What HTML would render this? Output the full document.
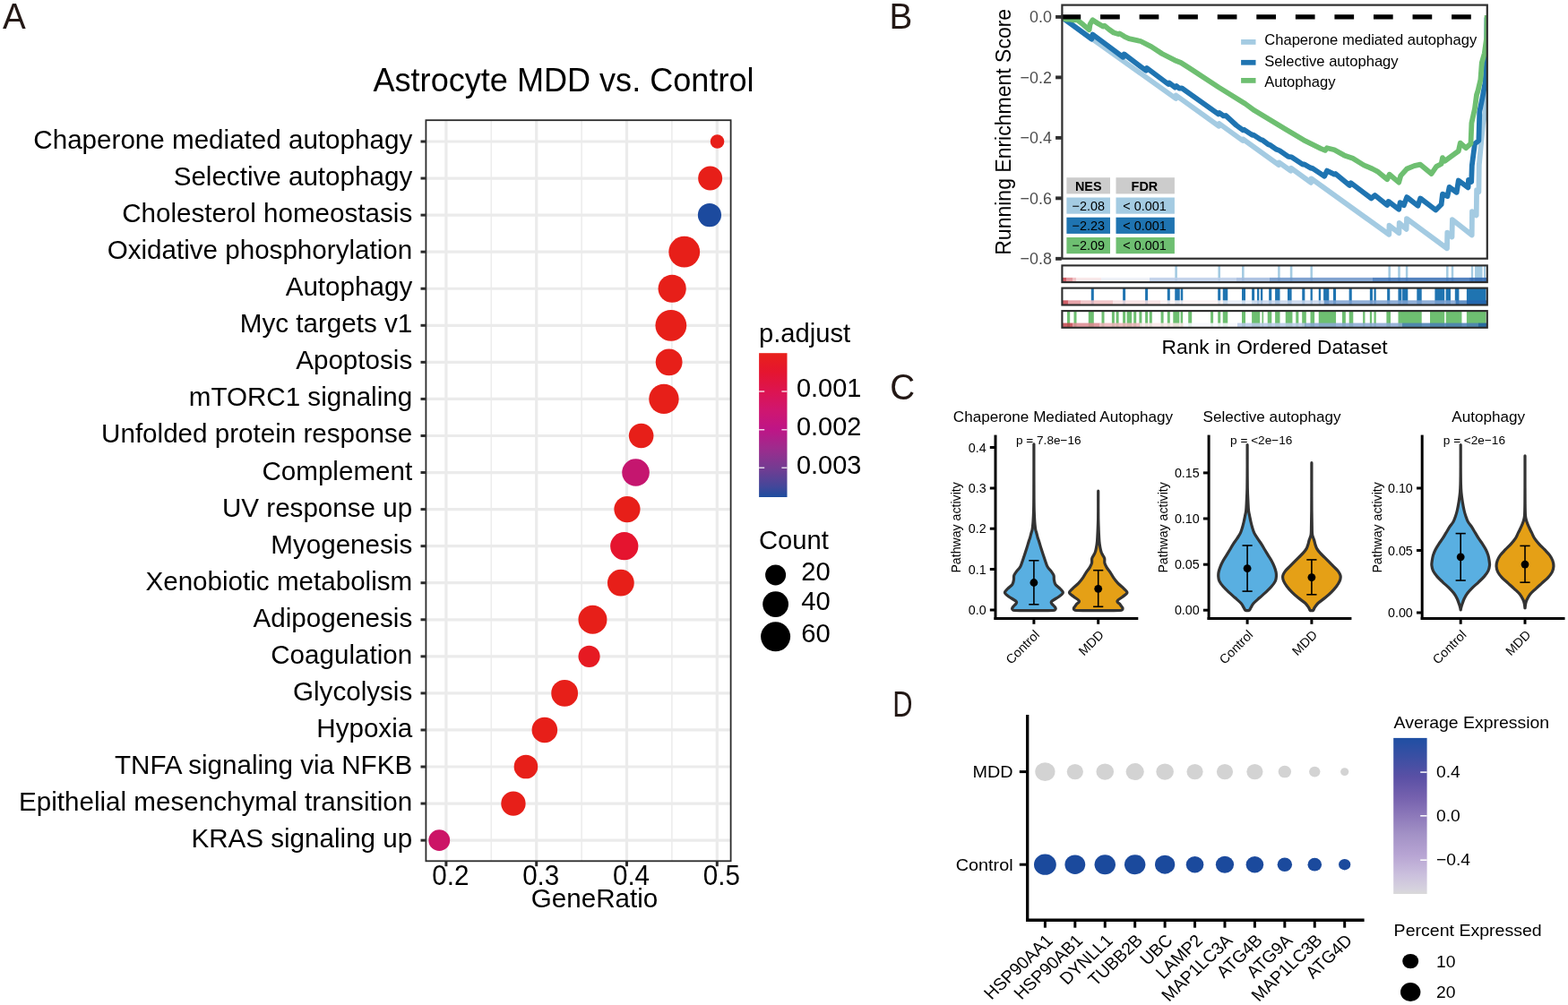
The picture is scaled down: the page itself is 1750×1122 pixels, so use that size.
<!DOCTYPE html>
<html lang="en">
<head>
<meta charset="utf-8">
<title>Astrocyte MDD vs. Control</title>
<style>
html,body{margin:0;padding:0;background:#fff;}
body{width:1750px;height:1122px;overflow:hidden;}
svg{display:block;font-family:"Liberation Sans", Arial, Helvetica, sans-serif;}
</style>
</head>
<body>
<svg width="1750" height="1122" viewBox="0 0 1750 1122">
<defs>
<linearGradient id="gA" x1="0" y1="0" x2="0" y2="1">
<stop offset="0" stop-color="#e8211b"/>
<stop offset="0.13" stop-color="#e5152f"/>
<stop offset="0.27" stop-color="#dc1452"/>
<stop offset="0.4" stop-color="#cf1670"/>
<stop offset="0.53" stop-color="#be1586"/>
<stop offset="0.66" stop-color="#9e2b8d"/>
<stop offset="0.8" stop-color="#733c92"/>
<stop offset="0.92" stop-color="#464699"/>
<stop offset="1" stop-color="#1d4d9f"/>
</linearGradient>


<linearGradient id="gD" x1="0" y1="0" x2="0" y2="1">
<stop offset="0" stop-color="#1f4fa3"/>
<stop offset="0.12" stop-color="#3a4fa3"/>
<stop offset="0.25" stop-color="#5a50a5"/>
<stop offset="0.38" stop-color="#7561ae"/>
<stop offset="0.5" stop-color="#8d79ba"/>
<stop offset="0.62" stop-color="#a392c6"/>
<stop offset="0.75" stop-color="#b7a4d3"/>
<stop offset="0.88" stop-color="#cbc0dd"/>
<stop offset="0.97" stop-color="#d6d2de"/>
<stop offset="1" stop-color="#d9d9d9"/>
</linearGradient>
</defs>
<rect width="1750" height="1122" fill="#fff"/>
<g>
<rect x="475.4" y="134.2" width="340.2" height="827.1" fill="#fff"/>
<line x1="548.3" y1="134.2" x2="548.3" y2="961.3" stroke="#ededed" stroke-width="1.6"/>
<line x1="649.1" y1="134.2" x2="649.1" y2="961.3" stroke="#ededed" stroke-width="1.6"/>
<line x1="749.9" y1="134.2" x2="749.9" y2="961.3" stroke="#ededed" stroke-width="1.6"/>
<line x1="497.9" y1="134.2" x2="497.9" y2="961.3" stroke="#ebebeb" stroke-width="3.2"/>
<line x1="598.7" y1="134.2" x2="598.7" y2="961.3" stroke="#ebebeb" stroke-width="3.2"/>
<line x1="699.5" y1="134.2" x2="699.5" y2="961.3" stroke="#ebebeb" stroke-width="3.2"/>
<line x1="800.3" y1="134.2" x2="800.3" y2="961.3" stroke="#ebebeb" stroke-width="3.2"/>
<line x1="475.4" y1="158" x2="815.6" y2="158" stroke="#ebebeb" stroke-width="3.2"/>
<line x1="475.4" y1="199.06" x2="815.6" y2="199.06" stroke="#ebebeb" stroke-width="3.2"/>
<line x1="475.4" y1="240.12" x2="815.6" y2="240.12" stroke="#ebebeb" stroke-width="3.2"/>
<line x1="475.4" y1="281.18" x2="815.6" y2="281.18" stroke="#ebebeb" stroke-width="3.2"/>
<line x1="475.4" y1="322.24" x2="815.6" y2="322.24" stroke="#ebebeb" stroke-width="3.2"/>
<line x1="475.4" y1="363.3" x2="815.6" y2="363.3" stroke="#ebebeb" stroke-width="3.2"/>
<line x1="475.4" y1="404.36" x2="815.6" y2="404.36" stroke="#ebebeb" stroke-width="3.2"/>
<line x1="475.4" y1="445.42" x2="815.6" y2="445.42" stroke="#ebebeb" stroke-width="3.2"/>
<line x1="475.4" y1="486.48" x2="815.6" y2="486.48" stroke="#ebebeb" stroke-width="3.2"/>
<line x1="475.4" y1="527.54" x2="815.6" y2="527.54" stroke="#ebebeb" stroke-width="3.2"/>
<line x1="475.4" y1="568.6" x2="815.6" y2="568.6" stroke="#ebebeb" stroke-width="3.2"/>
<line x1="475.4" y1="609.66" x2="815.6" y2="609.66" stroke="#ebebeb" stroke-width="3.2"/>
<line x1="475.4" y1="650.72" x2="815.6" y2="650.72" stroke="#ebebeb" stroke-width="3.2"/>
<line x1="475.4" y1="691.78" x2="815.6" y2="691.78" stroke="#ebebeb" stroke-width="3.2"/>
<line x1="475.4" y1="732.84" x2="815.6" y2="732.84" stroke="#ebebeb" stroke-width="3.2"/>
<line x1="475.4" y1="773.9" x2="815.6" y2="773.9" stroke="#ebebeb" stroke-width="3.2"/>
<line x1="475.4" y1="814.96" x2="815.6" y2="814.96" stroke="#ebebeb" stroke-width="3.2"/>
<line x1="475.4" y1="856.02" x2="815.6" y2="856.02" stroke="#ebebeb" stroke-width="3.2"/>
<line x1="475.4" y1="897.08" x2="815.6" y2="897.08" stroke="#ebebeb" stroke-width="3.2"/>
<line x1="475.4" y1="938.14" x2="815.6" y2="938.14" stroke="#ebebeb" stroke-width="3.2"/>
<circle cx="800.55" cy="158" r="7.8" fill="#e71f19"/>
<circle cx="792.65" cy="199.06" r="13.5" fill="#e71f19"/>
<circle cx="791.95" cy="240.12" r="13.1" fill="#1c4a9e"/>
<circle cx="763.75" cy="281.18" r="17.4" fill="#e71f19"/>
<circle cx="750.15" cy="322.24" r="15.6" fill="#e71f19"/>
<circle cx="748.85" cy="363.3" r="17.4" fill="#e71f19"/>
<circle cx="746.65" cy="404.36" r="14.9" fill="#e71f19"/>
<circle cx="740.95" cy="445.42" r="16.7" fill="#e71f19"/>
<circle cx="715.65" cy="486.48" r="13.8" fill="#e71f19"/>
<circle cx="709.55" cy="527.54" r="15.3" fill="#c5166f"/>
<circle cx="699.95" cy="568.6" r="14.6" fill="#e71f19"/>
<circle cx="696.75" cy="609.66" r="15.6" fill="#e5142f"/>
<circle cx="692.85" cy="650.72" r="14.9" fill="#e71f19"/>
<circle cx="661.45" cy="691.78" r="16" fill="#e71f19"/>
<circle cx="657.55" cy="732.84" r="12.1" fill="#e61a22"/>
<circle cx="630.15" cy="773.9" r="14.9" fill="#e71f19"/>
<circle cx="607.85" cy="814.96" r="14.3" fill="#e71f19"/>
<circle cx="586.95" cy="856.02" r="13.3" fill="#e71f19"/>
<circle cx="572.95" cy="897.08" r="13.7" fill="#e71f19"/>
<circle cx="490.25" cy="938.14" r="11.9" fill="#cc1466"/>
<rect x="475.4" y="134.2" width="340.2" height="827.1" fill="none" stroke="#2b2b2b" stroke-width="1.8"/>
<line x1="469.5" y1="158" x2="474.9" y2="158" stroke="#2b2b2b" stroke-width="3"/>
<line x1="469.5" y1="199.06" x2="474.9" y2="199.06" stroke="#2b2b2b" stroke-width="3"/>
<line x1="469.5" y1="240.12" x2="474.9" y2="240.12" stroke="#2b2b2b" stroke-width="3"/>
<line x1="469.5" y1="281.18" x2="474.9" y2="281.18" stroke="#2b2b2b" stroke-width="3"/>
<line x1="469.5" y1="322.24" x2="474.9" y2="322.24" stroke="#2b2b2b" stroke-width="3"/>
<line x1="469.5" y1="363.3" x2="474.9" y2="363.3" stroke="#2b2b2b" stroke-width="3"/>
<line x1="469.5" y1="404.36" x2="474.9" y2="404.36" stroke="#2b2b2b" stroke-width="3"/>
<line x1="469.5" y1="445.42" x2="474.9" y2="445.42" stroke="#2b2b2b" stroke-width="3"/>
<line x1="469.5" y1="486.48" x2="474.9" y2="486.48" stroke="#2b2b2b" stroke-width="3"/>
<line x1="469.5" y1="527.54" x2="474.9" y2="527.54" stroke="#2b2b2b" stroke-width="3"/>
<line x1="469.5" y1="568.6" x2="474.9" y2="568.6" stroke="#2b2b2b" stroke-width="3"/>
<line x1="469.5" y1="609.66" x2="474.9" y2="609.66" stroke="#2b2b2b" stroke-width="3"/>
<line x1="469.5" y1="650.72" x2="474.9" y2="650.72" stroke="#2b2b2b" stroke-width="3"/>
<line x1="469.5" y1="691.78" x2="474.9" y2="691.78" stroke="#2b2b2b" stroke-width="3"/>
<line x1="469.5" y1="732.84" x2="474.9" y2="732.84" stroke="#2b2b2b" stroke-width="3"/>
<line x1="469.5" y1="773.9" x2="474.9" y2="773.9" stroke="#2b2b2b" stroke-width="3"/>
<line x1="469.5" y1="814.96" x2="474.9" y2="814.96" stroke="#2b2b2b" stroke-width="3"/>
<line x1="469.5" y1="856.02" x2="474.9" y2="856.02" stroke="#2b2b2b" stroke-width="3"/>
<line x1="469.5" y1="897.08" x2="474.9" y2="897.08" stroke="#2b2b2b" stroke-width="3"/>
<line x1="469.5" y1="938.14" x2="474.9" y2="938.14" stroke="#2b2b2b" stroke-width="3"/>
<line x1="497.9" y1="961.8" x2="497.9" y2="967.2" stroke="#2b2b2b" stroke-width="3"/>
<line x1="598.7" y1="961.8" x2="598.7" y2="967.2" stroke="#2b2b2b" stroke-width="3"/>
<line x1="699.5" y1="961.8" x2="699.5" y2="967.2" stroke="#2b2b2b" stroke-width="3"/>
<line x1="800.3" y1="961.8" x2="800.3" y2="967.2" stroke="#2b2b2b" stroke-width="3"/>
<text x="460.2" y="166" font-size="29.6" text-anchor="end">Chaperone mediated autophagy</text>
<text x="460.2" y="207.06" font-size="29.6" text-anchor="end">Selective autophagy</text>
<text x="460.2" y="248.12" font-size="29.6" text-anchor="end">Cholesterol homeostasis</text>
<text x="460.2" y="289.18" font-size="29.6" text-anchor="end">Oxidative phosphorylation</text>
<text x="460.2" y="330.24" font-size="29.6" text-anchor="end">Autophagy</text>
<text x="460.2" y="371.3" font-size="29.6" text-anchor="end">Myc targets v1</text>
<text x="460.2" y="412.36" font-size="29.6" text-anchor="end">Apoptosis</text>
<text x="460.2" y="453.42" font-size="29.6" text-anchor="end">mTORC1 signaling</text>
<text x="460.2" y="494.48" font-size="29.6" text-anchor="end">Unfolded protein response</text>
<text x="460.2" y="535.54" font-size="29.6" text-anchor="end">Complement</text>
<text x="460.2" y="576.6" font-size="29.6" text-anchor="end">UV response up</text>
<text x="460.2" y="617.66" font-size="29.6" text-anchor="end">Myogenesis</text>
<text x="460.2" y="658.72" font-size="29.6" text-anchor="end">Xenobiotic metabolism</text>
<text x="460.2" y="699.78" font-size="29.6" text-anchor="end">Adipogenesis</text>
<text x="460.2" y="740.84" font-size="29.6" text-anchor="end">Coagulation</text>
<text x="460.2" y="781.9" font-size="29.6" text-anchor="end">Glycolysis</text>
<text x="460.2" y="822.96" font-size="29.6" text-anchor="end">Hypoxia</text>
<text x="460.2" y="864.02" font-size="29.6" text-anchor="end">TNFA signaling via NFKB</text>
<text x="460.2" y="905.08" font-size="29.6" text-anchor="end">Epithelial mesenchymal transition</text>
<text x="460.2" y="946.14" font-size="29.6" text-anchor="end">KRAS signaling up</text>
<text transform="translate(502.9 988.3) scale(1 1.04)" font-size="29.6" text-anchor="middle">0.2</text>
<text transform="translate(603.7 988.3) scale(1 1.04)" font-size="29.6" text-anchor="middle">0.3</text>
<text transform="translate(704.5 988.3) scale(1 1.04)" font-size="29.6" text-anchor="middle">0.4</text>
<text transform="translate(805.3 988.3) scale(1 1.04)" font-size="29.6" text-anchor="middle">0.5</text>
<text x="663.5" y="1013.2" font-size="29.6" text-anchor="middle">GeneRatio</text>
<text x="629" y="101.9" font-size="36.1" text-anchor="middle">Astrocyte MDD vs. Control</text>
<text x="847" y="382.2" font-size="29.2">p.adjust</text>
<rect x="847.1" y="394.2" width="31.4" height="160.8" fill="url(#gA)"/>
<line x1="847.1" y1="437" x2="853.2" y2="437" stroke="#fff" stroke-width="1.2"/>
<line x1="872.4" y1="437" x2="878.5" y2="437" stroke="#fff" stroke-width="1.2"/>
<text transform="translate(889 443.3) scale(1 1.04)" font-size="28.9">0.001</text>
<line x1="847.1" y1="479.8" x2="853.2" y2="479.8" stroke="#fff" stroke-width="1.2"/>
<line x1="872.4" y1="479.8" x2="878.5" y2="479.8" stroke="#fff" stroke-width="1.2"/>
<text transform="translate(889 486.1) scale(1 1.04)" font-size="28.9">0.002</text>
<line x1="847.1" y1="522.2" x2="853.2" y2="522.2" stroke="#fff" stroke-width="1.2"/>
<line x1="872.4" y1="522.2" x2="878.5" y2="522.2" stroke="#fff" stroke-width="1.2"/>
<text transform="translate(889 528.5) scale(1 1.04)" font-size="28.9">0.003</text>
<text x="847" y="612.8" font-size="29.2">Count</text>
<circle cx="865.6" cy="641.9" r="11.5" fill="#000"/>
<text transform="translate(894.3 648.3) scale(1 1.04)" font-size="29.2">20</text>
<circle cx="865.6" cy="674.6" r="14.4" fill="#000"/>
<text transform="translate(894.3 681) scale(1 1.04)" font-size="29.2">40</text>
<circle cx="865.6" cy="710.8" r="16.5" fill="#000"/>
<text transform="translate(894.3 717.2) scale(1 1.04)" font-size="29.2">60</text>
</g>
<g>
<clipPath id="cpB"><rect x="1185.4" y="5.6" width="474.4" height="283.1"/></clipPath>
<g clip-path="url(#cpB)">
<polyline points="1185.5,19.5 1312.3,110.0 1312.6,106.5 1360.4,140.8 1360.7,138.0 1387.0,157.0 1387.3,155.4 1427.2,184.1 1427.5,181.3 1440.5,190.7 1440.8,187.7 1463.2,203.9 1463.5,199.4 1550.3,261.8 1550.5,251.7 1561.4,260.2 1561.7,249.0 1569.6,255.9 1570.0,244.2 1615.0,277.3 1615.3,259.7 1620.5,264.5 1620.9,245.2 1642.7,262.4 1643.0,236.1 1647.7,240.4 1648.1,212.1 1650.4,214.2 1650.8,184.3 1653.0,160.4 1655.0,139.0 1658.0,123.0 1659.2,93.0 1659.6,19.5" fill="none" stroke="#a4cbe2" stroke-width="5.8" stroke-linejoin="round" stroke-linecap="butt"/>
<polyline points="1185.5,19.5 1218.4,43.6 1219.5,38.5 1253.5,63.8 1254.6,60.4 1279.0,78.8 1280.0,76.0 1304.0,94.0 1305.0,92.6 1311.5,97.6 1313.0,96.0 1316.0,98.6 1319.0,98.3 1359.8,127.4 1361.0,126.0 1365.5,129.4 1368.0,129.0 1380.0,140.0 1387.4,145.4 1388.6,144.8 1397.8,150.9 1399.0,150.6 1406.7,155.7 1408.6,156.2 1415.7,161.4 1417.5,161.8 1424.6,166.8 1428.1,168.1 1437.9,174.8 1441.5,175.3 1454.0,183.7 1455.8,183.4 1463.1,187.8 1464.4,187.6 1472.7,193.1 1478.2,196.7 1481.0,190.6 1489.2,194.7 1490.5,194.0 1506.3,207.0 1507.7,204.3 1530.4,221.4 1534.5,218.0 1548.2,229.0 1549.6,224.9 1561.2,233.8 1562.6,226.2 1566.8,229.2 1570.2,220.1 1582.5,229.7 1585.2,221.4 1602.4,234.5 1608.6,228.3 1610.0,216.6 1615.5,219.0 1617.6,208.9 1625.7,214.8 1627.8,201.5 1638.5,209.4 1639.0,200.9 1642.2,203.0 1642.8,184.8 1646.0,160.4 1650.4,156.9 1651.3,124.8 1654.4,109.5 1657.6,92.0 1659.0,73.0 1659.6,19.5" fill="none" stroke="#1f74b1" stroke-width="5.8" stroke-linejoin="round" stroke-linecap="butt"/>
<polyline points="1185.5,20.0 1190.0,21.6 1194.0,21.4 1198.0,22.4 1202.0,22.0 1209.0,27.6 1215.6,33.2 1216.6,27.0 1219.5,22.3 1225.0,26.0 1231.0,29.6 1232.5,28.6 1238.0,33.0 1243.0,36.5 1248.0,38.0 1249.5,37.4 1255.0,40.8 1260.0,43.2 1273.0,46.0 1285.0,52.1 1297.0,60.0 1311.0,67.2 1318.0,70.0 1329.0,77.0 1360.0,97.4 1390.0,116.0 1400.0,123.3 1434.3,143.9 1454.9,156.3 1474.1,165.9 1478.9,167.9 1481.0,165.2 1489.2,167.2 1500.2,173.4 1509.8,176.8 1522.1,184.4 1531.7,188.5 1537.2,191.3 1548.2,200.2 1550.7,194.7 1561.2,203.6 1563.3,196.1 1570.2,188.5 1578.4,185.1 1585.2,183.7 1597.6,194.0 1603.1,185.8 1608.6,183.0 1610.0,176.2 1612.7,179.6 1622.3,172.7 1627.8,168.6 1629.8,159.7 1636.0,165.2 1641.5,160.4 1642.4,137.3 1646.0,121.2 1648.0,106.0 1649.6,101.0 1652.4,89.0 1653.8,70.0 1656.8,59.5 1659.2,42.0 1659.6,17.0" fill="none" stroke="#6ebf71" stroke-width="5.8" stroke-linejoin="round" stroke-linecap="butt"/>
</g>
<line x1="1184.5" y1="18.9" x2="1659.8" y2="18.9" stroke="#000" stroke-width="5.3" stroke-dasharray="21.7 21.86"/>
<rect x="1185.4" y="5.6" width="474.4" height="283.1" fill="none" stroke="#2e2e2e" stroke-width="2.2"/>
<line x1="1178.1" y1="18.9" x2="1184.8" y2="18.9" stroke="#2e2e2e" stroke-width="3.9"/>
<text transform="translate(1173.9 25.2) scale(1 1.04)" font-size="17.9" text-anchor="end" fill="#4d4d4d">0.0</text>
<line x1="1178.1" y1="86.38" x2="1184.8" y2="86.38" stroke="#2e2e2e" stroke-width="3.9"/>
<text transform="translate(1173.9 92.68) scale(1 1.04)" font-size="17.9" text-anchor="end" fill="#4d4d4d">−0.2</text>
<line x1="1178.1" y1="153.86" x2="1184.8" y2="153.86" stroke="#2e2e2e" stroke-width="3.9"/>
<text transform="translate(1173.9 160.16) scale(1 1.04)" font-size="17.9" text-anchor="end" fill="#4d4d4d">−0.4</text>
<line x1="1178.1" y1="221.34" x2="1184.8" y2="221.34" stroke="#2e2e2e" stroke-width="3.9"/>
<text transform="translate(1173.9 227.64) scale(1 1.04)" font-size="17.9" text-anchor="end" fill="#4d4d4d">−0.6</text>
<line x1="1178.1" y1="288.82" x2="1184.8" y2="288.82" stroke="#2e2e2e" stroke-width="3.9"/>
<text transform="translate(1173.9 295.12) scale(1 1.04)" font-size="17.9" text-anchor="end" fill="#4d4d4d">−0.8</text>
<text transform="translate(1128.4 147.3) rotate(-90)" font-size="23" text-anchor="middle">Running Enrichment Score</text>
<text x="1422.6" y="395" font-size="22.8" text-anchor="middle">Rank in Ordered Dataset</text>
<line x1="1385.1" y1="46.9" x2="1401.5" y2="46.9" stroke="#a4cbe2" stroke-width="5.8"/>
<text x="1411.2" y="50.3" font-size="16.6">Chaperone mediated autophagy</text>
<line x1="1385.1" y1="69.8" x2="1401.5" y2="69.8" stroke="#1f74b1" stroke-width="5.8"/>
<text x="1411.2" y="74.4" font-size="16.6">Selective autophagy</text>
<line x1="1385.1" y1="89.9" x2="1401.5" y2="89.9" stroke="#6ebf71" stroke-width="5.8"/>
<text x="1411.2" y="96.5" font-size="16.6">Autophagy</text>
<rect x="1190.4" y="198.2" width="48.6" height="18.2" fill="#cccccc"/>
<text transform="translate(1214.7 212.6) scale(1 1.04)" font-size="14.4" text-anchor="middle" font-weight="bold">NES</text>
<rect x="1245.5" y="198.2" width="65.4" height="18.2" fill="#cccccc"/>
<text transform="translate(1277.4 212.6) scale(1 1.04)" font-size="14.4" text-anchor="middle" font-weight="bold">FDR</text>
<rect x="1190.4" y="220.5" width="48.6" height="18.2" fill="#a4cbe2"/>
<text transform="translate(1214.7 234.9) scale(1 1.04)" font-size="14.4" text-anchor="middle">−2.08</text>
<rect x="1245.5" y="220.5" width="65.4" height="18.2" fill="#a4cbe2"/>
<text transform="translate(1277.5 234.9) scale(1 1.04)" font-size="14.4" text-anchor="middle">&lt; 0.001</text>
<rect x="1190.4" y="242.7" width="48.6" height="18.2" fill="#1f74b1"/>
<text transform="translate(1214.7 257.1) scale(1 1.04)" font-size="14.4" text-anchor="middle">−2.23</text>
<rect x="1245.5" y="242.7" width="65.4" height="18.2" fill="#1f74b1"/>
<text transform="translate(1277.5 257.1) scale(1 1.04)" font-size="14.4" text-anchor="middle">&lt; 0.001</text>
<rect x="1190.4" y="265" width="48.6" height="18.2" fill="#6ebf71"/>
<text transform="translate(1214.7 279.4) scale(1 1.04)" font-size="14.4" text-anchor="middle">−2.09</text>
<rect x="1245.5" y="265" width="65.4" height="18.2" fill="#6ebf71"/>
<text transform="translate(1277.5 279.4) scale(1 1.04)" font-size="14.4" text-anchor="middle">&lt; 0.001</text>
<rect x="1185.4" y="296.4" width="474.4" height="18.7" fill="#fff"/>
<rect x="1311.3" y="296.4" width="2.6" height="18.7" fill="#a4cbe2"/>
<rect x="1359.4" y="296.4" width="2.6" height="18.7" fill="#a4cbe2"/>
<rect x="1386" y="296.4" width="2.6" height="18.7" fill="#a4cbe2"/>
<rect x="1426.15" y="296.4" width="2.5" height="18.7" fill="#a4cbe2"/>
<rect x="1439.8" y="296.4" width="2.6" height="18.7" fill="#a4cbe2"/>
<rect x="1462.45" y="296.4" width="2.5" height="18.7" fill="#a4cbe2"/>
<rect x="1549.4" y="296.4" width="2.6" height="18.7" fill="#a4cbe2"/>
<rect x="1560.2" y="296.4" width="2.6" height="18.7" fill="#a4cbe2"/>
<rect x="1568.85" y="296.4" width="2.5" height="18.7" fill="#a4cbe2"/>
<rect x="1614.05" y="296.4" width="2.5" height="18.7" fill="#a4cbe2"/>
<rect x="1619.75" y="296.4" width="2.5" height="18.7" fill="#a4cbe2"/>
<rect x="1641.85" y="296.4" width="2.3" height="18.7" fill="#a4cbe2"/>
<rect x="1646.05" y="296.4" width="8.5" height="18.7" fill="#a4cbe2"/>
<rect x="1656" y="296.4" width="2" height="18.7" fill="#a4cbe2"/>
<g opacity="0.86">
<rect x="1185" y="309.9" width="5.3" height="5.2" fill="#c9444f"/>
<rect x="1190" y="309.9" width="7.3" height="5.2" fill="#e08a91"/>
<rect x="1197" y="309.9" width="4.3" height="5.2" fill="#efbcc0"/>
<rect x="1201" y="309.9" width="28.3" height="5.2" fill="#fae6e7"/>
<rect x="1229" y="309.9" width="54.3" height="5.2" fill="#edf1f9"/>
<rect x="1283" y="309.9" width="97.3" height="5.2" fill="#bdcfea"/>
<rect x="1380" y="309.9" width="37.3" height="5.2" fill="#a3bbdf"/>
<rect x="1417" y="309.9" width="115.3" height="5.2" fill="#6e96ca"/>
<rect x="1532" y="309.9" width="108.3" height="5.2" fill="#3a70b6"/>
<rect x="1640" y="309.9" width="20.1" height="5.2" fill="#2a62ac"/>
</g>
<rect x="1185.4" y="296.4" width="474.4" height="18.7" fill="none" stroke="#2b2b2b" stroke-width="2.1"/>
<rect x="1185.4" y="321.6" width="474.4" height="18.9" fill="#fff"/>
<rect x="1217.8" y="321.6" width="3" height="18.9" fill="#1f74b1"/>
<rect x="1253.1" y="321.6" width="3" height="18.9" fill="#1f74b1"/>
<rect x="1278.1" y="321.6" width="3" height="18.9" fill="#1f74b1"/>
<rect x="1302.8" y="321.6" width="3" height="18.9" fill="#1f74b1"/>
<rect x="1311.25" y="321.6" width="5.5" height="18.9" fill="#1f74b1"/>
<rect x="1317.75" y="321.6" width="2.5" height="18.9" fill="#1f74b1"/>
<rect x="1359.2" y="321.6" width="3" height="18.9" fill="#1f74b1"/>
<rect x="1364.75" y="321.6" width="5.5" height="18.9" fill="#1f74b1"/>
<rect x="1386" y="321.6" width="4" height="18.9" fill="#1f74b1"/>
<rect x="1397.1" y="321.6" width="3" height="18.9" fill="#1f74b1"/>
<rect x="1403.05" y="321.6" width="2.3" height="18.9" fill="#1f74b1"/>
<rect x="1406.95" y="321.6" width="2.3" height="18.9" fill="#1f74b1"/>
<rect x="1416.15" y="321.6" width="3.1" height="18.9" fill="#1f74b1"/>
<rect x="1423.1" y="321.6" width="5.4" height="18.9" fill="#1f74b1"/>
<rect x="1437" y="321.6" width="4.6" height="18.9" fill="#1f74b1"/>
<rect x="1453.25" y="321.6" width="3.1" height="18.9" fill="#1f74b1"/>
<rect x="1462.55" y="321.6" width="2.3" height="18.9" fill="#1f74b1"/>
<rect x="1471.75" y="321.6" width="2.3" height="18.9" fill="#1f74b1"/>
<rect x="1477.1" y="321.6" width="6.2" height="18.9" fill="#1f74b1"/>
<rect x="1487.95" y="321.6" width="3.1" height="18.9" fill="#1f74b1"/>
<rect x="1505.65" y="321.6" width="3.1" height="18.9" fill="#1f74b1"/>
<rect x="1528.85" y="321.6" width="3.1" height="18.9" fill="#1f74b1"/>
<rect x="1533.45" y="321.6" width="2.3" height="18.9" fill="#1f74b1"/>
<rect x="1548.15" y="321.6" width="3.1" height="18.9" fill="#1f74b1"/>
<rect x="1560.45" y="321.6" width="3.9" height="18.9" fill="#1f74b1"/>
<rect x="1565.1" y="321.6" width="6.2" height="18.9" fill="#1f74b1"/>
<rect x="1581.3" y="321.6" width="5.4" height="18.9" fill="#1f74b1"/>
<rect x="1601.4" y="321.6" width="10.8" height="18.9" fill="#1f74b1"/>
<rect x="1613.6" y="321.6" width="5.4" height="18.9" fill="#1f74b1"/>
<rect x="1623.8" y="321.6" width="4.6" height="18.9" fill="#1f74b1"/>
<rect x="1636.9" y="321.6" width="21.6" height="18.9" fill="#1f74b1"/>
<g opacity="0.86">
<rect x="1185" y="335.3" width="7.3" height="5.2" fill="#c9444f"/>
<rect x="1192" y="335.3" width="14.3" height="5.2" fill="#e3959c"/>
<rect x="1206" y="335.3" width="36.3" height="5.2" fill="#efbcc0"/>
<rect x="1242" y="335.3" width="53.3" height="5.2" fill="#f8dfe1"/>
<rect x="1295" y="335.3" width="70.3" height="5.2" fill="#fdf3f4"/>
<rect x="1365" y="335.3" width="35.3" height="5.2" fill="#e6ecf7"/>
<rect x="1400" y="335.3" width="78.3" height="5.2" fill="#c5d4ec"/>
<rect x="1478" y="335.3" width="147.3" height="5.2" fill="#7da1d1"/>
<rect x="1625" y="335.3" width="12.3" height="5.2" fill="#4a7fbd"/>
<rect x="1637" y="335.3" width="23.1" height="5.2" fill="#2566af"/>
</g>
<rect x="1185.4" y="321.6" width="474.4" height="18.9" fill="none" stroke="#2b2b2b" stroke-width="2.1"/>
<rect x="1185.4" y="347.1" width="474.4" height="18.7" fill="#fff"/>
<rect x="1191" y="347.1" width="3.2" height="18.7" fill="#6ebf71"/>
<rect x="1198.5" y="347.1" width="3" height="18.7" fill="#6ebf71"/>
<rect x="1214.8" y="347.1" width="6" height="18.7" fill="#6ebf71"/>
<rect x="1229.5" y="347.1" width="3" height="18.7" fill="#6ebf71"/>
<rect x="1240.9" y="347.1" width="3" height="18.7" fill="#6ebf71"/>
<rect x="1245.6" y="347.1" width="3" height="18.7" fill="#6ebf71"/>
<rect x="1253.1" y="347.1" width="3" height="18.7" fill="#6ebf71"/>
<rect x="1257.65" y="347.1" width="5.5" height="18.7" fill="#6ebf71"/>
<rect x="1265.2" y="347.1" width="3" height="18.7" fill="#6ebf71"/>
<rect x="1271.4" y="347.1" width="3" height="18.7" fill="#6ebf71"/>
<rect x="1278.1" y="347.1" width="3" height="18.7" fill="#6ebf71"/>
<rect x="1282.8" y="347.1" width="3" height="18.7" fill="#6ebf71"/>
<rect x="1295.6" y="347.1" width="3" height="18.7" fill="#6ebf71"/>
<rect x="1302.8" y="347.1" width="3" height="18.7" fill="#6ebf71"/>
<rect x="1309.3" y="347.1" width="7" height="18.7" fill="#6ebf71"/>
<rect x="1317.65" y="347.1" width="2.5" height="18.7" fill="#6ebf71"/>
<rect x="1326.2" y="347.1" width="4" height="18.7" fill="#6ebf71"/>
<rect x="1351.1" y="347.1" width="3" height="18.7" fill="#6ebf71"/>
<rect x="1359.2" y="347.1" width="3" height="18.7" fill="#6ebf71"/>
<rect x="1364.75" y="347.1" width="5.5" height="18.7" fill="#6ebf71"/>
<rect x="1386" y="347.1" width="4" height="18.7" fill="#6ebf71"/>
<rect x="1397.1" y="347.1" width="3" height="18.7" fill="#6ebf71"/>
<rect x="1400" y="347.1" width="6.2" height="18.7" fill="#6ebf71"/>
<rect x="1408.5" y="347.1" width="1.6" height="18.7" fill="#6ebf71"/>
<rect x="1414.7" y="347.1" width="4.6" height="18.7" fill="#6ebf71"/>
<rect x="1423.1" y="347.1" width="5.4" height="18.7" fill="#6ebf71"/>
<rect x="1434.75" y="347.1" width="7.7" height="18.7" fill="#6ebf71"/>
<rect x="1446.25" y="347.1" width="3.1" height="18.7" fill="#6ebf71"/>
<rect x="1453.2" y="347.1" width="4.6" height="18.7" fill="#6ebf71"/>
<rect x="1462.5" y="347.1" width="4.6" height="18.7" fill="#6ebf71"/>
<rect x="1471.75" y="347.1" width="19.3" height="18.7" fill="#6ebf71"/>
<rect x="1497.95" y="347.1" width="3.9" height="18.7" fill="#6ebf71"/>
<rect x="1505.7" y="347.1" width="4.6" height="18.7" fill="#6ebf71"/>
<rect x="1521.15" y="347.1" width="2.3" height="18.7" fill="#6ebf71"/>
<rect x="1528.85" y="347.1" width="2.3" height="18.7" fill="#6ebf71"/>
<rect x="1533.45" y="347.1" width="2.3" height="18.7" fill="#6ebf71"/>
<rect x="1547.4" y="347.1" width="4.6" height="18.7" fill="#6ebf71"/>
<rect x="1560.5" y="347.1" width="26.2" height="18.7" fill="#6ebf71"/>
<rect x="1596" y="347.1" width="16.2" height="18.7" fill="#6ebf71"/>
<rect x="1613.75" y="347.1" width="17.7" height="18.7" fill="#6ebf71"/>
<rect x="1636.9" y="347.1" width="21.6" height="18.7" fill="#6ebf71"/>
<g opacity="0.86">
<rect x="1185" y="360.6" width="12.3" height="5.2" fill="#c4464f"/>
<rect x="1197" y="360.6" width="30.3" height="5.2" fill="#dd8a91"/>
<rect x="1227" y="360.6" width="45.3" height="5.2" fill="#ecb4b9"/>
<rect x="1272" y="360.6" width="49.3" height="5.2" fill="#f9e6e7"/>
<rect x="1321" y="360.6" width="60.3" height="5.2" fill="#f6f8fd"/>
<rect x="1381" y="360.6" width="75.3" height="5.2" fill="#b9cae8"/>
<rect x="1456" y="360.6" width="109.3" height="5.2" fill="#8ba9d5"/>
<rect x="1565" y="360.6" width="85.3" height="5.2" fill="#4a7fb6"/>
<rect x="1650" y="360.6" width="10.1" height="5.2" fill="#1f5fa6"/>
</g>
<rect x="1185.4" y="347.1" width="474.4" height="18.7" fill="none" stroke="#2b2b2b" stroke-width="2.1"/>
</g>
<g>
<path d="M1153.90 497.10C1153.90 497.20 1153.90 493.88 1153.90 497.70C1153.90 501.52 1153.92 510.45 1153.90 520.00C1153.88 529.55 1153.85 546.67 1153.80 555.00C1153.75 563.33 1153.73 565.42 1153.60 570.00C1153.47 574.58 1153.20 579.33 1153.00 582.50C1152.80 585.67 1152.58 587.42 1152.40 589.00C1152.22 590.58 1152.13 591.00 1151.90 592.00C1151.67 593.00 1151.37 593.67 1151.00 595.00C1150.63 596.33 1150.18 598.38 1149.70 600.00C1149.22 601.62 1148.73 602.70 1148.10 604.70C1147.47 606.70 1146.70 609.47 1145.90 612.00C1145.10 614.53 1144.47 616.50 1143.30 619.90C1142.13 623.30 1140.30 629.48 1138.90 632.40C1137.50 635.32 1136.08 635.75 1134.90 637.40C1133.72 639.05 1132.38 640.65 1131.80 642.30C1131.22 643.95 1131.72 645.63 1131.40 647.30C1131.08 648.97 1131.03 650.63 1129.90 652.30C1128.77 653.97 1126.00 655.73 1124.60 657.30C1123.20 658.87 1121.30 660.25 1121.50 661.70C1121.70 663.15 1123.77 664.45 1125.80 666.00C1127.83 667.55 1132.30 669.75 1133.70 671.00C1135.10 672.25 1134.68 672.45 1134.20 673.50C1133.72 674.55 1131.57 676.32 1130.80 677.30C1130.03 678.28 1129.68 678.82 1129.60 679.40C1129.52 679.98 1129.85 680.45 1130.30 680.80C1130.75 681.15 1130.37 681.37 1132.30 681.50C1134.23 681.63 1136.30 681.58 1141.90 681.60C1147.50 681.62 1160.30 681.62 1165.90 681.60C1171.50 681.58 1173.57 681.63 1175.50 681.50C1177.43 681.37 1177.05 681.15 1177.50 680.80C1177.95 680.45 1178.28 679.98 1178.20 679.40C1178.12 678.82 1177.77 678.28 1177.00 677.30C1176.23 676.32 1174.08 674.55 1173.60 673.50C1173.12 672.45 1172.70 672.25 1174.10 671.00C1175.50 669.75 1179.97 667.55 1182.00 666.00C1184.03 664.45 1186.10 663.15 1186.30 661.70C1186.50 660.25 1184.60 658.87 1183.20 657.30C1181.80 655.73 1179.03 653.97 1177.90 652.30C1176.77 650.63 1176.72 648.97 1176.40 647.30C1176.08 645.63 1176.58 643.95 1176.00 642.30C1175.42 640.65 1174.08 639.05 1172.90 637.40C1171.72 635.75 1170.30 635.32 1168.90 632.40C1167.50 629.48 1165.67 623.30 1164.50 619.90C1163.33 616.50 1162.70 614.53 1161.90 612.00C1161.10 609.47 1160.33 606.70 1159.70 604.70C1159.07 602.70 1158.58 601.62 1158.10 600.00C1157.62 598.38 1157.17 596.33 1156.80 595.00C1156.43 593.67 1156.13 593.00 1155.90 592.00C1155.67 591.00 1155.58 590.58 1155.40 589.00C1155.22 587.42 1155.00 585.67 1154.80 582.50C1154.60 579.33 1154.33 574.58 1154.20 570.00C1154.07 565.42 1154.05 563.33 1154.00 555.00C1153.95 546.67 1153.92 529.55 1153.90 520.00C1153.88 510.45 1153.90 501.52 1153.90 497.70C1153.90 493.88 1153.90 497.20 1153.90 497.10C1153.90 497.00 1153.90 497.00 1153.90 497.10Z" fill="#59afe1" stroke="#333333" stroke-width="3.2" stroke-linejoin="round"/>
<path d="M1225.70 548.90C1225.70 549.00 1225.70 546.82 1225.70 549.50C1225.70 552.18 1225.72 559.92 1225.70 565.00C1225.68 570.08 1225.68 575.50 1225.60 580.00C1225.52 584.50 1225.33 588.67 1225.20 592.00C1225.07 595.33 1224.92 597.88 1224.80 600.00C1224.68 602.12 1224.62 603.37 1224.50 604.70C1224.38 606.03 1224.33 606.50 1224.10 608.00C1223.87 609.50 1223.43 612.20 1223.10 613.70C1222.77 615.20 1222.52 615.97 1222.10 617.00C1221.68 618.03 1221.17 618.80 1220.60 619.90C1220.03 621.00 1219.05 622.15 1218.70 623.60C1218.35 625.05 1218.92 626.93 1218.50 628.60C1218.08 630.27 1217.20 631.93 1216.20 633.60C1215.20 635.27 1213.75 636.73 1212.50 638.60C1211.25 640.47 1210.17 642.72 1208.70 644.80C1207.23 646.88 1205.67 649.02 1203.70 651.10C1201.73 653.18 1198.62 655.53 1196.90 657.30C1195.18 659.07 1193.20 660.25 1193.40 661.70C1193.60 663.15 1196.27 664.45 1198.10 666.00C1199.93 667.55 1203.87 669.53 1204.40 671.00C1204.93 672.47 1202.25 673.58 1201.30 674.80C1200.35 676.02 1199.18 677.47 1198.70 678.30C1198.22 679.13 1198.30 679.37 1198.40 679.80C1198.50 680.23 1198.82 680.62 1199.30 680.90C1199.78 681.18 1199.07 681.38 1201.30 681.50C1203.53 681.62 1206.47 681.58 1212.70 681.60C1218.93 681.62 1232.47 681.62 1238.70 681.60C1244.93 681.58 1247.87 681.62 1250.10 681.50C1252.33 681.38 1251.62 681.18 1252.10 680.90C1252.58 680.62 1252.90 680.23 1253.00 679.80C1253.10 679.37 1253.18 679.13 1252.70 678.30C1252.22 677.47 1251.05 676.02 1250.10 674.80C1249.15 673.58 1246.47 672.47 1247.00 671.00C1247.53 669.53 1251.47 667.55 1253.30 666.00C1255.13 664.45 1257.80 663.15 1258.00 661.70C1258.20 660.25 1256.22 659.07 1254.50 657.30C1252.78 655.53 1249.67 653.18 1247.70 651.10C1245.73 649.02 1244.17 646.88 1242.70 644.80C1241.23 642.72 1240.15 640.47 1238.90 638.60C1237.65 636.73 1236.20 635.27 1235.20 633.60C1234.20 631.93 1233.32 630.27 1232.90 628.60C1232.48 626.93 1233.05 625.05 1232.70 623.60C1232.35 622.15 1231.37 621.00 1230.80 619.90C1230.23 618.80 1229.72 618.03 1229.30 617.00C1228.88 615.97 1228.63 615.20 1228.30 613.70C1227.97 612.20 1227.53 609.50 1227.30 608.00C1227.07 606.50 1227.02 606.03 1226.90 604.70C1226.78 603.37 1226.72 602.12 1226.60 600.00C1226.48 597.88 1226.33 595.33 1226.20 592.00C1226.07 588.67 1225.88 584.50 1225.80 580.00C1225.72 575.50 1225.72 570.08 1225.70 565.00C1225.68 559.92 1225.70 552.18 1225.70 549.50C1225.70 546.82 1225.70 549.00 1225.70 548.90C1225.70 548.80 1225.70 548.80 1225.70 548.90Z" fill="#e5a016" stroke="#333333" stroke-width="3.2" stroke-linejoin="round"/>
<line x1="1153.9" y1="625.8" x2="1153.9" y2="674.8" stroke="#000" stroke-width="1.6"/>
<line x1="1148.3" y1="625.8" x2="1159.5" y2="625.8" stroke="#000" stroke-width="1.6"/>
<line x1="1148.3" y1="674.8" x2="1159.5" y2="674.8" stroke="#000" stroke-width="1.6"/>
<circle cx="1153.9" cy="650.5" r="4.4" fill="#000"/>
<line x1="1225.7" y1="636.7" x2="1225.7" y2="677.3" stroke="#000" stroke-width="1.6"/>
<line x1="1220.1" y1="636.7" x2="1231.3" y2="636.7" stroke="#000" stroke-width="1.6"/>
<line x1="1220.1" y1="677.3" x2="1231.3" y2="677.3" stroke="#000" stroke-width="1.6"/>
<circle cx="1225.7" cy="657.3" r="4.4" fill="#000"/>
<line x1="1111" y1="485.6" x2="1111" y2="691.9" stroke="#000" stroke-width="3"/>
<line x1="1109.5" y1="690.4" x2="1270.3" y2="690.4" stroke="#000" stroke-width="3"/>
<line x1="1104.8" y1="681" x2="1111" y2="681" stroke="#000" stroke-width="3"/>
<text transform="translate(1100.6 686) scale(1 1.04)" font-size="14.3" text-anchor="end">0.0</text>
<line x1="1104.8" y1="635.5" x2="1111" y2="635.5" stroke="#000" stroke-width="3"/>
<text transform="translate(1100.6 640.5) scale(1 1.04)" font-size="14.3" text-anchor="end">0.1</text>
<line x1="1104.8" y1="590.2" x2="1111" y2="590.2" stroke="#000" stroke-width="3"/>
<text transform="translate(1100.6 595.2) scale(1 1.04)" font-size="14.3" text-anchor="end">0.2</text>
<line x1="1104.8" y1="545" x2="1111" y2="545" stroke="#000" stroke-width="3"/>
<text transform="translate(1100.6 550) scale(1 1.04)" font-size="14.3" text-anchor="end">0.3</text>
<line x1="1104.8" y1="499.5" x2="1111" y2="499.5" stroke="#000" stroke-width="3"/>
<text transform="translate(1100.6 504.5) scale(1 1.04)" font-size="14.3" text-anchor="end">0.4</text>
<line x1="1153.9" y1="690.4" x2="1153.9" y2="696.8" stroke="#000" stroke-width="3"/>
<text transform="translate(1161.1 709.6) rotate(-45)" font-size="14.3" text-anchor="end">Control</text>
<line x1="1225.7" y1="690.4" x2="1225.7" y2="696.8" stroke="#000" stroke-width="3"/>
<text transform="translate(1232.9 709.6) rotate(-45)" font-size="14.3" text-anchor="end">MDD</text>
<text transform="translate(1072 588.9) rotate(-90)" font-size="14.15" text-anchor="middle">Pathway activity</text>
<text x="1186.4" y="470.8" font-size="17.1" text-anchor="middle">Chaperone Mediated Autophagy</text>
<text x="1134" y="496.4" font-size="13.6">p = 7.8e−16</text>
<path d="M1392.10 497.70C1392.10 497.80 1392.10 494.58 1392.10 498.30C1392.10 502.02 1392.13 512.22 1392.10 520.00C1392.07 527.78 1392.03 538.33 1391.90 545.00C1391.77 551.67 1391.50 555.83 1391.30 560.00C1391.10 564.17 1391.00 567.30 1390.70 570.00C1390.40 572.70 1389.92 574.12 1389.50 576.20C1389.08 578.28 1388.68 580.42 1388.20 582.50C1387.72 584.58 1387.22 586.63 1386.60 588.70C1385.98 590.77 1385.48 592.82 1384.50 594.90C1383.52 596.98 1382.05 599.12 1380.70 601.20C1379.35 603.28 1377.75 605.32 1376.40 607.40C1375.05 609.48 1373.85 611.62 1372.60 613.70C1371.35 615.78 1370.15 617.83 1368.90 619.90C1367.65 621.97 1366.23 624.02 1365.10 626.10C1363.97 628.18 1362.93 630.32 1362.10 632.40C1361.27 634.48 1360.48 636.73 1360.10 638.60C1359.72 640.47 1359.68 641.93 1359.80 643.60C1359.92 645.27 1359.92 646.73 1360.80 648.60C1361.68 650.47 1363.33 652.72 1365.10 654.80C1366.87 656.88 1369.20 659.02 1371.40 661.10C1373.60 663.18 1376.02 665.23 1378.30 667.30C1380.58 669.37 1383.45 671.63 1385.10 673.50C1386.75 675.37 1387.52 677.35 1388.20 678.50C1388.88 679.65 1388.88 679.92 1389.20 680.40C1389.52 680.88 1389.78 681.20 1390.10 681.40C1390.42 681.60 1390.60 681.57 1391.10 681.60C1391.60 681.63 1392.60 681.63 1393.10 681.60C1393.60 681.57 1393.78 681.60 1394.10 681.40C1394.42 681.20 1394.68 680.88 1395.00 680.40C1395.32 679.92 1395.32 679.65 1396.00 678.50C1396.68 677.35 1397.45 675.37 1399.10 673.50C1400.75 671.63 1403.62 669.37 1405.90 667.30C1408.18 665.23 1410.60 663.18 1412.80 661.10C1415.00 659.02 1417.33 656.88 1419.10 654.80C1420.87 652.72 1422.52 650.47 1423.40 648.60C1424.28 646.73 1424.28 645.27 1424.40 643.60C1424.52 641.93 1424.48 640.47 1424.10 638.60C1423.72 636.73 1422.93 634.48 1422.10 632.40C1421.27 630.32 1420.23 628.18 1419.10 626.10C1417.97 624.02 1416.55 621.97 1415.30 619.90C1414.05 617.83 1412.85 615.78 1411.60 613.70C1410.35 611.62 1409.15 609.48 1407.80 607.40C1406.45 605.32 1404.85 603.28 1403.50 601.20C1402.15 599.12 1400.68 596.98 1399.70 594.90C1398.72 592.82 1398.22 590.77 1397.60 588.70C1396.98 586.63 1396.48 584.58 1396.00 582.50C1395.52 580.42 1395.12 578.28 1394.70 576.20C1394.28 574.12 1393.80 572.70 1393.50 570.00C1393.20 567.30 1393.10 564.17 1392.90 560.00C1392.70 555.83 1392.43 551.67 1392.30 545.00C1392.17 538.33 1392.13 527.78 1392.10 520.00C1392.07 512.22 1392.10 502.02 1392.10 498.30C1392.10 494.58 1392.10 497.80 1392.10 497.70C1392.10 497.60 1392.10 497.60 1392.10 497.70Z" fill="#59afe1" stroke="#333333" stroke-width="3.2" stroke-linejoin="round"/>
<path d="M1463.90 517.90C1463.90 518.00 1463.90 514.82 1463.90 518.50C1463.90 522.18 1463.92 531.42 1463.90 540.00C1463.88 548.58 1463.87 561.67 1463.80 570.00C1463.73 578.33 1463.62 585.43 1463.50 590.00C1463.38 594.57 1463.47 595.33 1463.10 597.40C1462.73 599.47 1461.82 600.73 1461.30 602.40C1460.78 604.07 1460.52 605.73 1460.00 607.40C1459.48 609.07 1459.13 610.73 1458.20 612.40C1457.27 614.07 1455.87 615.73 1454.40 617.40C1452.93 619.07 1451.07 620.73 1449.40 622.40C1447.73 624.07 1446.05 625.73 1444.40 627.40C1442.75 629.07 1441.15 630.73 1439.50 632.40C1437.85 634.07 1435.70 635.95 1434.50 637.40C1433.30 638.85 1432.78 639.97 1432.30 641.10C1431.82 642.23 1431.55 642.95 1431.60 644.20C1431.65 645.45 1431.82 646.83 1432.60 648.60C1433.38 650.37 1434.75 652.72 1436.30 654.80C1437.85 656.88 1439.82 659.02 1441.90 661.10C1443.98 663.18 1446.30 665.23 1448.80 667.30C1451.30 669.37 1454.92 671.63 1456.90 673.50C1458.88 675.37 1459.92 677.35 1460.70 678.50C1461.48 679.65 1461.33 679.92 1461.60 680.40C1461.87 680.88 1462.05 681.20 1462.30 681.40C1462.55 681.60 1462.70 681.57 1463.10 681.60C1463.50 681.63 1464.30 681.63 1464.70 681.60C1465.10 681.57 1465.25 681.60 1465.50 681.40C1465.75 681.20 1465.93 680.88 1466.20 680.40C1466.47 679.92 1466.32 679.65 1467.10 678.50C1467.88 677.35 1468.92 675.37 1470.90 673.50C1472.88 671.63 1476.50 669.37 1479.00 667.30C1481.50 665.23 1483.82 663.18 1485.90 661.10C1487.98 659.02 1489.95 656.88 1491.50 654.80C1493.05 652.72 1494.42 650.37 1495.20 648.60C1495.98 646.83 1496.15 645.45 1496.20 644.20C1496.25 642.95 1495.98 642.23 1495.50 641.10C1495.02 639.97 1494.50 638.85 1493.30 637.40C1492.10 635.95 1489.95 634.07 1488.30 632.40C1486.65 630.73 1485.05 629.07 1483.40 627.40C1481.75 625.73 1480.07 624.07 1478.40 622.40C1476.73 620.73 1474.87 619.07 1473.40 617.40C1471.93 615.73 1470.53 614.07 1469.60 612.40C1468.67 610.73 1468.32 609.07 1467.80 607.40C1467.28 605.73 1467.02 604.07 1466.50 602.40C1465.98 600.73 1465.07 599.47 1464.70 597.40C1464.33 595.33 1464.42 594.57 1464.30 590.00C1464.18 585.43 1464.07 578.33 1464.00 570.00C1463.93 561.67 1463.92 548.58 1463.90 540.00C1463.88 531.42 1463.90 522.18 1463.90 518.50C1463.90 514.82 1463.90 518.00 1463.90 517.90C1463.90 517.80 1463.90 517.80 1463.90 517.90Z" fill="#e5a016" stroke="#333333" stroke-width="3.2" stroke-linejoin="round"/>
<line x1="1392.1" y1="609" x2="1392.1" y2="660.1" stroke="#000" stroke-width="1.6"/>
<line x1="1386.5" y1="609" x2="1397.7" y2="609" stroke="#000" stroke-width="1.6"/>
<line x1="1386.5" y1="660.1" x2="1397.7" y2="660.1" stroke="#000" stroke-width="1.6"/>
<circle cx="1392.1" cy="634.6" r="4.4" fill="#000"/>
<line x1="1463.9" y1="624.9" x2="1463.9" y2="663.8" stroke="#000" stroke-width="1.6"/>
<line x1="1458.3" y1="624.9" x2="1469.5" y2="624.9" stroke="#000" stroke-width="1.6"/>
<line x1="1458.3" y1="663.8" x2="1469.5" y2="663.8" stroke="#000" stroke-width="1.6"/>
<circle cx="1463.9" cy="644.6" r="4.4" fill="#000"/>
<line x1="1349.1" y1="485.6" x2="1349.1" y2="691.9" stroke="#000" stroke-width="3"/>
<line x1="1347.6" y1="690.4" x2="1508.4" y2="690.4" stroke="#000" stroke-width="3"/>
<line x1="1342.9" y1="681.2" x2="1349.1" y2="681.2" stroke="#000" stroke-width="3"/>
<text transform="translate(1338.7 686.2) scale(1 1.04)" font-size="14.3" text-anchor="end">0.00</text>
<line x1="1342.9" y1="630.2" x2="1349.1" y2="630.2" stroke="#000" stroke-width="3"/>
<text transform="translate(1338.7 635.2) scale(1 1.04)" font-size="14.3" text-anchor="end">0.05</text>
<line x1="1342.9" y1="579" x2="1349.1" y2="579" stroke="#000" stroke-width="3"/>
<text transform="translate(1338.7 584) scale(1 1.04)" font-size="14.3" text-anchor="end">0.10</text>
<line x1="1342.9" y1="527.9" x2="1349.1" y2="527.9" stroke="#000" stroke-width="3"/>
<text transform="translate(1338.7 532.9) scale(1 1.04)" font-size="14.3" text-anchor="end">0.15</text>
<line x1="1392.1" y1="690.4" x2="1392.1" y2="696.8" stroke="#000" stroke-width="3"/>
<text transform="translate(1399.3 709.6) rotate(-45)" font-size="14.3" text-anchor="end">Control</text>
<line x1="1463.9" y1="690.4" x2="1463.9" y2="696.8" stroke="#000" stroke-width="3"/>
<text transform="translate(1471.1 709.6) rotate(-45)" font-size="14.3" text-anchor="end">MDD</text>
<text transform="translate(1302.8 588.9) rotate(-90)" font-size="14.15" text-anchor="middle">Pathway activity</text>
<text x="1419.5" y="470.8" font-size="17.1" text-anchor="middle">Selective autophagy</text>
<text x="1373.1" y="496.4" font-size="13.6">p = &lt;2e−16</text>
<path d="M1630.20 497.70C1630.20 497.80 1630.20 494.58 1630.20 498.30C1630.20 502.02 1630.23 513.05 1630.20 520.00C1630.17 526.95 1630.12 535.00 1630.00 540.00C1629.88 545.00 1629.80 546.67 1629.50 550.00C1629.20 553.33 1628.73 556.67 1628.20 560.00C1627.67 563.33 1626.92 567.30 1626.30 570.00C1625.68 572.70 1625.22 574.12 1624.50 576.20C1623.78 578.28 1623.15 580.42 1622.00 582.50C1620.85 584.58 1618.95 586.63 1617.60 588.70C1616.25 590.77 1615.15 592.82 1613.90 594.90C1612.65 596.98 1611.45 599.12 1610.10 601.20C1608.75 603.28 1607.15 605.32 1605.80 607.40C1604.45 609.48 1603.05 611.62 1602.00 613.70C1600.95 615.78 1600.12 617.83 1599.50 619.90C1598.88 621.97 1598.57 624.23 1598.30 626.10C1598.03 627.97 1597.70 629.22 1597.90 631.10C1598.10 632.98 1598.50 635.32 1599.50 637.40C1600.50 639.48 1602.13 641.53 1603.90 643.60C1605.67 645.67 1607.92 647.72 1610.10 649.80C1612.28 651.88 1614.92 654.02 1617.00 656.10C1619.08 658.18 1621.05 660.23 1622.60 662.30C1624.15 664.37 1625.30 666.42 1626.30 668.50C1627.30 670.58 1628.05 673.22 1628.60 674.80C1629.15 676.38 1629.35 677.10 1629.60 678.00C1629.85 678.90 1630.02 679.73 1630.10 680.20C1630.18 680.67 1630.07 680.70 1630.10 680.80C1630.13 680.90 1630.27 680.90 1630.30 680.80C1630.33 680.70 1630.22 680.67 1630.30 680.20C1630.38 679.73 1630.55 678.90 1630.80 678.00C1631.05 677.10 1631.25 676.38 1631.80 674.80C1632.35 673.22 1633.10 670.58 1634.10 668.50C1635.10 666.42 1636.25 664.37 1637.80 662.30C1639.35 660.23 1641.32 658.18 1643.40 656.10C1645.48 654.02 1648.12 651.88 1650.30 649.80C1652.48 647.72 1654.73 645.67 1656.50 643.60C1658.27 641.53 1659.90 639.48 1660.90 637.40C1661.90 635.32 1662.30 632.98 1662.50 631.10C1662.70 629.22 1662.37 627.97 1662.10 626.10C1661.83 624.23 1661.52 621.97 1660.90 619.90C1660.28 617.83 1659.45 615.78 1658.40 613.70C1657.35 611.62 1655.95 609.48 1654.60 607.40C1653.25 605.32 1651.65 603.28 1650.30 601.20C1648.95 599.12 1647.75 596.98 1646.50 594.90C1645.25 592.82 1644.15 590.77 1642.80 588.70C1641.45 586.63 1639.55 584.58 1638.40 582.50C1637.25 580.42 1636.62 578.28 1635.90 576.20C1635.18 574.12 1634.72 572.70 1634.10 570.00C1633.48 567.30 1632.73 563.33 1632.20 560.00C1631.67 556.67 1631.20 553.33 1630.90 550.00C1630.60 546.67 1630.52 545.00 1630.40 540.00C1630.28 535.00 1630.23 526.95 1630.20 520.00C1630.17 513.05 1630.20 502.02 1630.20 498.30C1630.20 494.58 1630.20 497.80 1630.20 497.70C1630.20 497.60 1630.20 497.60 1630.20 497.70Z" fill="#59afe1" stroke="#333333" stroke-width="3.2" stroke-linejoin="round"/>
<path d="M1702.00 509.90C1702.00 510.00 1702.00 507.15 1702.00 510.50C1702.00 513.85 1702.02 521.75 1702.00 530.00C1701.98 538.25 1701.98 552.33 1701.90 560.00C1701.82 567.67 1701.82 572.25 1701.50 576.00C1701.18 579.75 1700.67 580.38 1700.00 582.50C1699.33 584.62 1698.43 586.63 1697.50 588.70C1696.57 590.77 1695.43 592.82 1694.40 594.90C1693.37 596.98 1692.65 599.12 1691.30 601.20C1689.95 603.28 1688.18 605.32 1686.30 607.40C1684.42 609.48 1681.98 611.62 1680.00 613.70C1678.02 615.78 1675.88 617.83 1674.40 619.90C1672.92 621.97 1671.82 624.02 1671.10 626.10C1670.38 628.18 1670.00 630.32 1670.10 632.40C1670.20 634.48 1670.67 636.53 1671.70 638.60C1672.73 640.67 1674.38 642.72 1676.30 644.80C1678.22 646.88 1680.92 649.02 1683.20 651.10C1685.48 653.18 1687.82 655.23 1690.00 657.30C1692.18 659.37 1694.63 661.42 1696.30 663.50C1697.97 665.58 1699.17 668.05 1700.00 669.80C1700.83 671.55 1700.98 672.58 1701.30 674.00C1701.62 675.42 1701.80 677.48 1701.90 678.30C1702.00 679.12 1701.87 678.80 1701.90 678.90C1701.93 679.00 1702.07 679.00 1702.10 678.90C1702.13 678.80 1702.00 679.12 1702.10 678.30C1702.20 677.48 1702.38 675.42 1702.70 674.00C1703.02 672.58 1703.17 671.55 1704.00 669.80C1704.83 668.05 1706.03 665.58 1707.70 663.50C1709.37 661.42 1711.82 659.37 1714.00 657.30C1716.18 655.23 1718.52 653.18 1720.80 651.10C1723.08 649.02 1725.78 646.88 1727.70 644.80C1729.62 642.72 1731.27 640.67 1732.30 638.60C1733.33 636.53 1733.80 634.48 1733.90 632.40C1734.00 630.32 1733.62 628.18 1732.90 626.10C1732.18 624.02 1731.08 621.97 1729.60 619.90C1728.12 617.83 1725.98 615.78 1724.00 613.70C1722.02 611.62 1719.58 609.48 1717.70 607.40C1715.82 605.32 1714.05 603.28 1712.70 601.20C1711.35 599.12 1710.63 596.98 1709.60 594.90C1708.57 592.82 1707.43 590.77 1706.50 588.70C1705.57 586.63 1704.67 584.62 1704.00 582.50C1703.33 580.38 1702.82 579.75 1702.50 576.00C1702.18 572.25 1702.18 567.67 1702.10 560.00C1702.02 552.33 1702.02 538.25 1702.00 530.00C1701.98 521.75 1702.00 513.85 1702.00 510.50C1702.00 507.15 1702.00 510.00 1702.00 509.90C1702.00 509.80 1702.00 509.80 1702.00 509.90Z" fill="#e5a016" stroke="#333333" stroke-width="3.2" stroke-linejoin="round"/>
<line x1="1630.2" y1="595.6" x2="1630.2" y2="648" stroke="#000" stroke-width="1.6"/>
<line x1="1624.6" y1="595.6" x2="1635.8" y2="595.6" stroke="#000" stroke-width="1.6"/>
<line x1="1624.6" y1="648" x2="1635.8" y2="648" stroke="#000" stroke-width="1.6"/>
<circle cx="1630.2" cy="621.8" r="4.4" fill="#000"/>
<line x1="1702" y1="609.4" x2="1702" y2="650.2" stroke="#000" stroke-width="1.6"/>
<line x1="1696.4" y1="609.4" x2="1707.6" y2="609.4" stroke="#000" stroke-width="1.6"/>
<line x1="1696.4" y1="650.2" x2="1707.6" y2="650.2" stroke="#000" stroke-width="1.6"/>
<circle cx="1702" cy="630.1" r="4.4" fill="#000"/>
<line x1="1587.2" y1="485.6" x2="1587.2" y2="691.9" stroke="#000" stroke-width="3"/>
<line x1="1585.7" y1="690.4" x2="1746.5" y2="690.4" stroke="#000" stroke-width="3"/>
<line x1="1581" y1="684" x2="1587.2" y2="684" stroke="#000" stroke-width="3"/>
<text transform="translate(1576.8 689) scale(1 1.04)" font-size="14.3" text-anchor="end">0.00</text>
<line x1="1581" y1="614.5" x2="1587.2" y2="614.5" stroke="#000" stroke-width="3"/>
<text transform="translate(1576.8 619.5) scale(1 1.04)" font-size="14.3" text-anchor="end">0.05</text>
<line x1="1581" y1="545" x2="1587.2" y2="545" stroke="#000" stroke-width="3"/>
<text transform="translate(1576.8 550) scale(1 1.04)" font-size="14.3" text-anchor="end">0.10</text>
<line x1="1630.2" y1="690.4" x2="1630.2" y2="696.8" stroke="#000" stroke-width="3"/>
<text transform="translate(1637.4 709.6) rotate(-45)" font-size="14.3" text-anchor="end">Control</text>
<line x1="1702" y1="690.4" x2="1702" y2="696.8" stroke="#000" stroke-width="3"/>
<text transform="translate(1709.2 709.6) rotate(-45)" font-size="14.3" text-anchor="end">MDD</text>
<text transform="translate(1541.6 588.9) rotate(-90)" font-size="14.15" text-anchor="middle">Pathway activity</text>
<text x="1661.2" y="470.8" font-size="17.1" text-anchor="middle">Autophagy</text>
<text x="1610.8" y="496.4" font-size="13.6">p = &lt;2e−16</text>
</g>
<g>
<ellipse cx="1166.4" cy="861.6" rx="11.1" ry="10.434" fill="#d3d3d3"/>
<ellipse cx="1166.4" cy="965.2" rx="12.4" ry="11.656" fill="#1b4a9d"/>
<ellipse cx="1199.83" cy="861.6" rx="9.1" ry="8.554" fill="#d3d3d3"/>
<ellipse cx="1199.83" cy="965.2" rx="11.4" ry="10.716" fill="#1b4a9d"/>
<ellipse cx="1233.26" cy="861.6" rx="9.8" ry="9.212" fill="#d3d3d3"/>
<ellipse cx="1233.26" cy="965.2" rx="11.7" ry="10.998" fill="#1b4a9d"/>
<ellipse cx="1266.69" cy="861.6" rx="10.1" ry="9.494" fill="#d3d3d3"/>
<ellipse cx="1266.69" cy="965.2" rx="11.7" ry="10.998" fill="#1b4a9d"/>
<ellipse cx="1300.12" cy="861.6" rx="9.8" ry="9.212" fill="#d3d3d3"/>
<ellipse cx="1300.12" cy="965.2" rx="11.1" ry="10.434" fill="#1b4a9d"/>
<ellipse cx="1333.55" cy="861.6" rx="9.1" ry="8.554" fill="#d3d3d3"/>
<ellipse cx="1333.55" cy="965.2" rx="9.8" ry="9.212" fill="#1b4a9d"/>
<ellipse cx="1366.98" cy="861.6" rx="9.1" ry="8.554" fill="#d3d3d3"/>
<ellipse cx="1366.98" cy="965.2" rx="10.1" ry="9.494" fill="#1b4a9d"/>
<ellipse cx="1400.41" cy="861.6" rx="9.1" ry="8.554" fill="#d3d3d3"/>
<ellipse cx="1400.41" cy="965.2" rx="9.8" ry="9.212" fill="#1b4a9d"/>
<ellipse cx="1433.84" cy="861.6" rx="7.2" ry="6.768" fill="#d3d3d3"/>
<ellipse cx="1433.84" cy="965.2" rx="8.2" ry="7.708" fill="#1b4a9d"/>
<ellipse cx="1467.27" cy="861.6" rx="6.2" ry="5.828" fill="#d3d3d3"/>
<ellipse cx="1467.27" cy="965.2" rx="7.8" ry="7.332" fill="#1b4a9d"/>
<ellipse cx="1500.7" cy="861.6" rx="4.6" ry="4.324" fill="#d3d3d3"/>
<ellipse cx="1500.7" cy="965.2" rx="6.6" ry="6.204" fill="#1b4a9d"/>
<line x1="1146.7" y1="798" x2="1146.7" y2="1029" stroke="#000" stroke-width="3.3"/>
<line x1="1145.05" y1="1027.3" x2="1522.6" y2="1027.3" stroke="#000" stroke-width="3.4"/>
<line x1="1137.8" y1="861.6" x2="1146.7" y2="861.6" stroke="#000" stroke-width="3"/>
<text transform="translate(1130.6 868) scale(1 0.95)" font-size="19.8" text-anchor="end">MDD</text>
<line x1="1137.8" y1="965.2" x2="1146.7" y2="965.2" stroke="#000" stroke-width="3"/>
<text transform="translate(1130.6 971.6) scale(1 0.95)" font-size="19.8" text-anchor="end">Control</text>
<line x1="1166.4" y1="1027.3" x2="1166.4" y2="1035.7" stroke="#000" stroke-width="3"/>
<text transform="translate(1176.2 1051.2) scale(1 0.94) rotate(-45) scale(1 1.04)" font-size="19.5" text-anchor="end">HSP90AA1</text>
<line x1="1199.83" y1="1027.3" x2="1199.83" y2="1035.7" stroke="#000" stroke-width="3"/>
<text transform="translate(1209.63 1051.2) scale(1 0.94) rotate(-45) scale(1 1.04)" font-size="19.5" text-anchor="end">HSP90AB1</text>
<line x1="1233.26" y1="1027.3" x2="1233.26" y2="1035.7" stroke="#000" stroke-width="3"/>
<text transform="translate(1243.06 1051.2) scale(1 0.94) rotate(-45) scale(1 1.04)" font-size="19.5" text-anchor="end">DYNLL1</text>
<line x1="1266.69" y1="1027.3" x2="1266.69" y2="1035.7" stroke="#000" stroke-width="3"/>
<text transform="translate(1276.49 1051.2) scale(1 0.94) rotate(-45) scale(1 1.04)" font-size="19.5" text-anchor="end">TUBB2B</text>
<line x1="1300.12" y1="1027.3" x2="1300.12" y2="1035.7" stroke="#000" stroke-width="3"/>
<text transform="translate(1309.92 1051.2) scale(1 0.94) rotate(-45) scale(1 1.04)" font-size="19.5" text-anchor="end">UBC</text>
<line x1="1333.55" y1="1027.3" x2="1333.55" y2="1035.7" stroke="#000" stroke-width="3"/>
<text transform="translate(1343.35 1051.2) scale(1 0.94) rotate(-45) scale(1 1.04)" font-size="19.5" text-anchor="end">LAMP2</text>
<line x1="1366.98" y1="1027.3" x2="1366.98" y2="1035.7" stroke="#000" stroke-width="3"/>
<text transform="translate(1376.78 1051.2) scale(1 0.94) rotate(-45) scale(1 1.04)" font-size="19.5" text-anchor="end">MAP1LC3A</text>
<line x1="1400.41" y1="1027.3" x2="1400.41" y2="1035.7" stroke="#000" stroke-width="3"/>
<text transform="translate(1410.21 1051.2) scale(1 0.94) rotate(-45) scale(1 1.04)" font-size="19.5" text-anchor="end">ATG4B</text>
<line x1="1433.84" y1="1027.3" x2="1433.84" y2="1035.7" stroke="#000" stroke-width="3"/>
<text transform="translate(1443.64 1051.2) scale(1 0.94) rotate(-45) scale(1 1.04)" font-size="19.5" text-anchor="end">ATG9A</text>
<line x1="1467.27" y1="1027.3" x2="1467.27" y2="1035.7" stroke="#000" stroke-width="3"/>
<text transform="translate(1477.07 1051.2) scale(1 0.94) rotate(-45) scale(1 1.04)" font-size="19.5" text-anchor="end">MAP1LC3B</text>
<line x1="1500.7" y1="1027.3" x2="1500.7" y2="1035.7" stroke="#000" stroke-width="3"/>
<text transform="translate(1510.5 1051.2) scale(1 0.94) rotate(-45) scale(1 1.04)" font-size="19.5" text-anchor="end">ATG4D</text>
<text transform="translate(1555.6 812.8) scale(1 0.955)" font-size="19.45">Average Expression</text>
<rect x="1555.2" y="823.9" width="37.4" height="174.1" fill="url(#gD)"/>
<line x1="1585.2" y1="862.1" x2="1592.6" y2="862.1" stroke="#fff" stroke-width="1.5"/>
<text transform="translate(1603 868.1) scale(1 0.975)" font-size="19.3">0.4</text>
<line x1="1585.2" y1="910.8" x2="1592.6" y2="910.8" stroke="#fff" stroke-width="1.5"/>
<text transform="translate(1603 916.8) scale(1 0.975)" font-size="19.3">0.0</text>
<line x1="1585.2" y1="960.2" x2="1592.6" y2="960.2" stroke="#fff" stroke-width="1.5"/>
<text transform="translate(1603 966.2) scale(1 0.975)" font-size="19.3">−0.4</text>
<text transform="translate(1555.6 1044.7) scale(1 0.955)" font-size="19.55">Percent Expressed</text>
<ellipse cx="1574.2" cy="1073.1" rx="9" ry="8.2" fill="#000"/>
<text transform="translate(1603 1079.5) scale(1 0.975)" font-size="19.3">10</text>
<ellipse cx="1574.2" cy="1107.6" rx="11.2" ry="10.5" fill="#000"/>
<text transform="translate(1603 1114) scale(1 0.975)" font-size="19.3">20</text>
</g>
<text transform="translate(3.0 31.7) scale(1 1.045)" font-size="38.6" fill="#231815">A</text>
<text transform="translate(992.6 31.5) scale(1 1.045)" font-size="38.6" fill="#231815">B</text>
<text transform="translate(993.2 446.4) scale(1 1.045)" font-size="38.6" fill="#231815">C</text>
<text transform="translate(996.2 799.7) scale(0.8 1.045)" font-size="38.6" fill="#231815">D</text>
</svg>
</body>
</html>
